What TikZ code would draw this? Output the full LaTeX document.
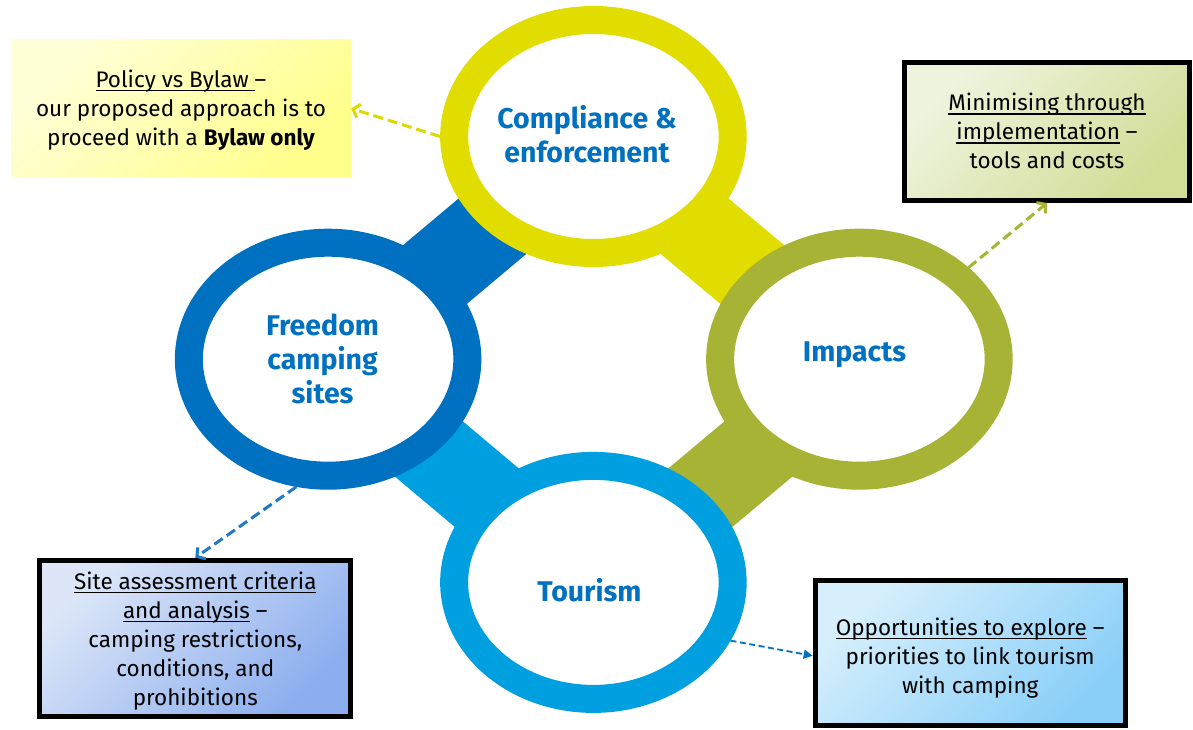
\documentclass[tikz,border=0pt]{standalone}
\usepackage{fontspec}
\setmainfont{Fira Sans}
\usetikzlibrary{arrows.meta,shapes.geometric}
\newsavebox\myulbox
\newcommand\myul[1]{\sbox\myulbox{#1}\rlap{\vrule height -2.6pt depth 3.7pt width \wd\myulbox}\usebox\myulbox}
\definecolor{dblue}{HTML}{0070C0}
\definecolor{lblue}{HTML}{009FDF}
\definecolor{yel}{HTML}{E1DD00}
\definecolor{oliv}{HTML}{A6B334}
\definecolor{yelarr}{HTML}{DDD800}
\definecolor{olarr}{HTML}{A6B334}
\definecolor{blarr}{HTML}{1F78C8}
\definecolor{yelA}{HTML}{FFFFD8}
\definecolor{yelB}{HTML}{FFFF8C}
\definecolor{olA}{HTML}{EFF4DF}
\definecolor{olB}{HTML}{D2DD96}
\definecolor{blA}{HTML}{DCE6F8}
\definecolor{blB}{HTML}{8CAEEE}
\definecolor{lbA}{HTML}{D7EFFC}
\definecolor{lbB}{HTML}{8ACFF8}
\begin{document}
\begin{tikzpicture}[x=1pt,y=-1pt,
  ring/.style={ellipse, draw=#1, fill=white, line width=28pt, inner sep=0pt,
    minimum width=278.5pt, minimum height=233pt},
  band/.style={line width=86pt, draw=#1},
  lbl/.style={text=dblue, font=\fontsize{28.5}{34}\selectfont\bfseries, align=center, inner sep=0pt},
  btxt/.style={align=center, font=\fontsize{22.5}{29}\selectfont, text=black, inner sep=0pt},
  sbox/.style 2 args={draw=black, line width=5pt, top color=#1, bottom color=#2, shading angle=45},
  dasharr/.style={draw=#1, line width=3pt, dash pattern=on 10pt off 5pt,
    -{Straight Barb[length=6pt,width=14pt]}},
]
\fill[white] (0,0) rectangle (1193,730);
\useasboundingbox (0,0) rectangle (1193,730);

\coordinate (cT) at (593.4,136.5);
\coordinate (cL) at (328.1,359.2);
\coordinate (cR) at (859.4,359.2);
\coordinate (cB) at (593.4,582.4);

% bands
\draw[band=dblue] ([yshift=-5pt]cL) -- ([yshift=-5pt]cT);
\draw[band=yel] ([yshift=-5pt]cT) -- ([yshift=-5pt]cR);
\draw[band=oliv] ([yshift=-5pt]cR) -- ([yshift=-5pt]cB);
\draw[band=lblue] ([yshift=-5pt]cL) -- ([yshift=-5pt]cB);

% rings
\node[ring=yel] (ce) at (cT) {};
\node[ring=dblue] (fc) at (cL) {};
\node[ring=oliv] (im) at (cR) {};
\node[ring=lblue] (tr) at (cB) {};

% ring labels
\node[lbl] (cel) at (587,134) {Compliance \&\\enforcement};
\node[lbl] (fcl) at (322.6,359.4) {Freedom\\camping\\sites};
\node[lbl] (iml) at (854.5,355.2) {Impacts};
\node[lbl] (trl) at (589.5,590.3) {Tourism};

% boxes
\node[top color=yelA, bottom color=yelB, shading angle=45, inner sep=0pt,
  minimum width=340pt, minimum height=137pt] (pb) at (181,108.5) {};
\node[btxt] (pbt) at (181,110.5)
  {\myul{Policy vs Bylaw\ }--\\our proposed approach is to\\proceed with a \textbf{Bylaw only}};
\node[sbox={olA}{olB}, minimum width=285pt, minimum height=138pt] (mb) at (1047,131.5) {};
\node[btxt] (mbt) at (1047,131.2)
  {\myul{Minimising through}\\\myul{implementation} --\\tools and costs};
\node[sbox={blA}{blB}, minimum width=311pt, minimum height=156.6pt] (sb) at (195.3,638.5) {};
\node[btxt] (sbt) at (195.3,640.8)
  {\myul{Site assessment criteria}\\\myul{and analysis} --\\camping restrictions,\\conditions, and\\prohibitions};
\node[sbox={lbA}{lbB}, minimum width=310pt, minimum height=145pt] (ob) at (970.2,653.3) {};
\node[btxt] (obt) at (970.2,658.3)
  {\myul{Opportunities to explore} --\\priorities to link tourism\\with camping};

% connectors
\draw[dasharr=yelarr] (ce.west) -- (pb.east);
\draw[dasharr=olarr] (im.40) -- (mb.south);
\draw[dasharr=blarr] (fc.256) -- (sb.north);
\draw[draw=dblue, line width=1.8pt, dash pattern=on 6pt off 3.5pt,
  -{Triangle[length=9pt,width=9pt]}] (tr.-23) -- ([yshift=-2.5pt]ob.west);
\end{tikzpicture}
\end{document}
